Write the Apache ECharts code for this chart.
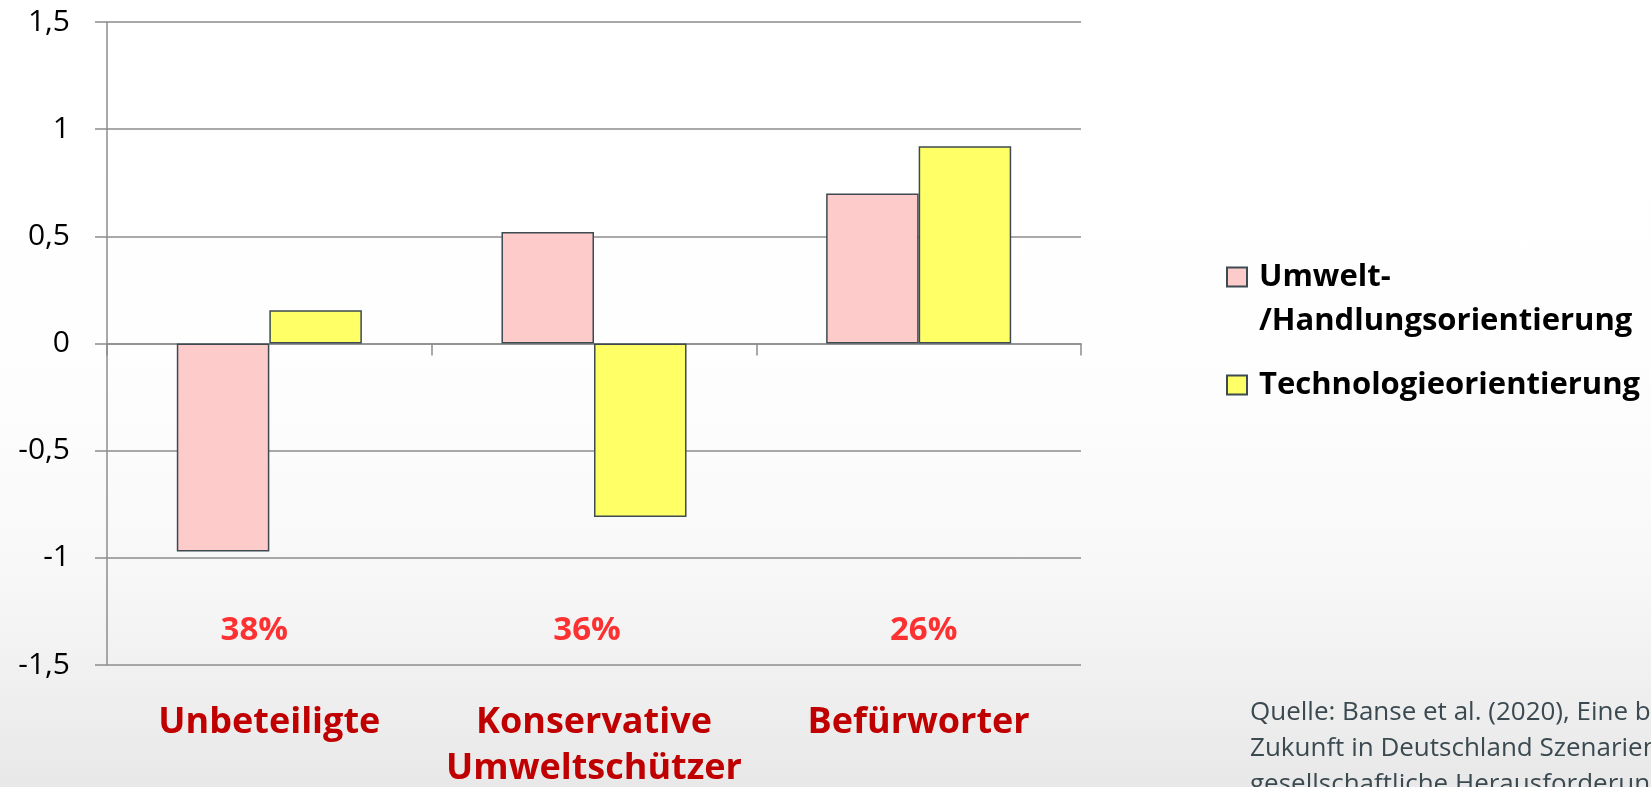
<!DOCTYPE html>
<html>
<head>
<meta charset="utf-8">
<title>Umwelt- und Technologieorientierung</title>
<script src="https://cdn.jsdelivr.net/npm/echarts@6/dist/echarts.min.js"></script>
<style>
  html, body { margin: 0; padding: 0; }
  body {
    background: linear-gradient(to bottom, #ffffff 0%, #fefefe 45%, #f8f8f8 72%, #e8e8e8 100%);
  }
  #main { width: 1651px; height: 787px; }
</style>
</head>
<body>
<div id="main"></div>
<script type="text/javascript">
  // Kategorien und Werte
  var categories = ['Unbeteiligte', 'Konservative\nUmweltschützer', 'Befürworter'];
  var shares = ['38%', '36%', '26%'];
  var umweltValues = [-0.97, 0.52, 0.70];
  var technoValues = [0.155, -0.81, 0.92];
  var seriesNames = ['Umwelt-\n/Handlungsorientierung', 'Technologieorientierung'];
  var shareLabelY = -1.34;
  // kleine horizontale Verschiebung der Prozentangaben wie im Original
  var shareOffsets = [-15, -7, 5];

  var chart = echarts.init(document.getElementById('main'));

  var font = '"Open Sans", Lato, sans-serif';
  var gridColor = '#8c8c8c';
  var barBorder = '#3d4a50';

  var option = {
    backgroundColor: 'transparent',
    animation: false,
    textStyle: { fontFamily: font },
    grid: { left: 107, right: 570, top: 22, bottom: 122, containLabel: false, outerBoundsMode: 'none' },
    legend: {
      orient: 'vertical',
      left: 1226,
      top: 211,
      padding: 0,
      itemGap: 20,
      itemWidth: 20,
      itemHeight: 19,
      icon: 'rect',
      selectedMode: false,
      textStyle: { fontSize: 31, fontWeight: 'bold', color: '#000', lineHeight: 44, padding: [0, 0, 0, 7], fontFamily: font },
      // leere erste Zeile, damit das Symbol auf Höhe von "Umwelt-" steht
      formatter: function (name) { return name === seriesNames[0] ? '\n' + name : name; },
      data: seriesNames
    },
    xAxis: [{
      type: 'category',
      data: categories,
      position: 'bottom',
      axisLine: { show: false, onZero: false },
      axisTick: { show: false },
      axisLabel: {
        interval: 0,
        margin: 35,
        fontSize: 36,
        fontWeight: 'bold',
        color: '#c00000',
        lineHeight: 46,
        fontFamily: font
      }
    }, {
      type: 'category',
      data: categories,
      position: 'bottom',
      axisLine: { show: true, onZero: true, lineStyle: { color: gridColor, width: 1.5 } },
      axisTick: { show: true, length: 12, lineStyle: { color: gridColor, width: 1.5 } },
      axisLabel: { show: false }
    }],
    yAxis: {
      type: 'value',
      min: -1.5,
      max: 1.5,
      interval: 0.5,
      axisLine: { show: true, lineStyle: { color: gridColor, width: 1.5 } },
      axisTick: { show: true, length: 12, lineStyle: { color: gridColor, width: 1.5 } },
      splitLine: { show: true, lineStyle: { color: gridColor, width: 1.5 } },
      axisLabel: {
        margin: 37,
        fontSize: 30,
        color: '#000',
        fontFamily: font,
        formatter: function (v) { return String(v).replace('.', ','); }
      }
    },
    series: [{
      name: seriesNames[0],
      type: 'bar',
      xAxisIndex: 0,
      data: umweltValues,
      barGap: '0%',
      barCategoryGap: '43%',
      itemStyle: { color: '#fecbcb', borderColor: barBorder, borderWidth: 1.5 }
    }, {
      name: seriesNames[1],
      type: 'bar',
      xAxisIndex: 0,
      data: technoValues,
      barGap: '0%',
      barCategoryGap: '43%',
      itemStyle: { color: '#ffff66', borderColor: barBorder, borderWidth: 1.5 }
    }, {
      name: 'Anteil',
      type: 'scatter',
      xAxisIndex: 0,
      symbolSize: 0,
      silent: true,
      data: shares.map(function (s, i) {
        return { value: [i, shareLabelY], label: { offset: [shareOffsets[i], 0] } };
      }),
      label: {
        show: true,
        position: 'inside',
        fontSize: 33,
        fontWeight: 'bold',
        color: '#ff0000',
        fontFamily: font,
        formatter: function (p) { return shares[p.dataIndex]; }
      }
    }],
    graphic: [{
      type: 'text',
      left: 1250,
      top: 695,
      style: {
        text: 'Quelle: Banse et al. (2020), Eine biobasierte\nZukunft in Deutschland Szenarien und\ngesellschaftliche Herausforderungen',
        fontSize: 26,
        lineHeight: 36,
        fill: '#3b4a50',
        fontFamily: font
      }
    }]
  };

  chart.setOption(option);
</script>
</body>
</html>
